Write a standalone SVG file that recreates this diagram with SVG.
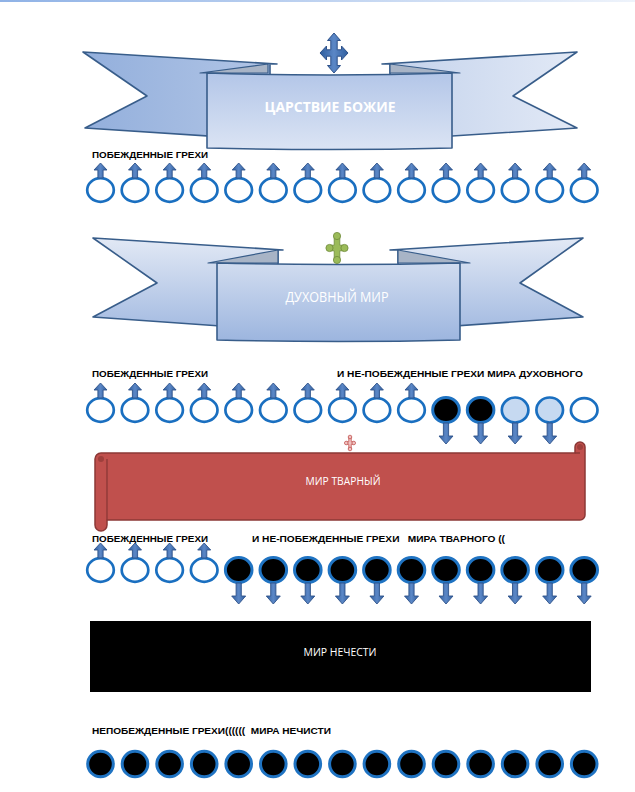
<svg xmlns="http://www.w3.org/2000/svg" width="635" height="792" viewBox="0 0 635 792">
<style>
.arrow{fill:url(#arr);stroke:#2f528a;stroke-width:0.9}
.ring{fill:#ffffff;stroke:#1a6fc0;stroke-width:2.7}
.dark{fill:#000000;stroke:#1f73c2;stroke-width:3}
.pale{fill:#c6d9f1;stroke:#1a6fc0;stroke-width:2.7}
.band{stroke:#385d8a;stroke-width:1.6;stroke-linejoin:round}
.fold{fill:#a8b4c6;stroke:#385d8a;stroke-width:1.2;stroke-linejoin:round}
.lbl{font-family:"Liberation Sans",Arial,sans-serif;font-weight:bold;font-size:9.5px;fill:#000000}
.wt{font-family:"Open Sans","Liberation Sans",sans-serif;fill:#ffffff;text-anchor:middle}
</style>
<defs>
<linearGradient id="topline" x1="0" y1="0" x2="1" y2="0"><stop offset="0" stop-color="#8fb2e6"/><stop offset="1" stop-color="#eef3fb"/></linearGradient>
<linearGradient id="b1" gradientUnits="userSpaceOnUse" x1="83" y1="0" x2="577" y2="0"><stop offset="0" stop-color="#93afdc"/><stop offset="1" stop-color="#e2e9f6"/></linearGradient>
<linearGradient id="b1r" x1="0" y1="0" x2="0" y2="1"><stop offset="0" stop-color="#b3c6e8"/><stop offset="1" stop-color="#dbe4f4"/></linearGradient>
<linearGradient id="b2" gradientUnits="userSpaceOnUse" x1="0" y1="238" x2="0" y2="340"><stop offset="0" stop-color="#e2e9f5"/><stop offset="1" stop-color="#9db6df"/></linearGradient>
<linearGradient id="arr" x1="0" y1="0" x2="1" y2="0"><stop offset="0" stop-color="#2f5e9e"/><stop offset="0.5" stop-color="#5b87c6"/><stop offset="1" stop-color="#2f5e9e"/></linearGradient>
<path id="up" d="M0,0 L6.5,7 L2.6,7 L2.6,15 L-2.6,15 L-2.6,7 L-6.5,7 Z" class="arrow"/>
<path id="down" d="M-2.6,0 L2.6,0 L2.6,13 L7,13 L0,21 L-7,13 L-2.6,13 Z" class="arrow"/>
</defs>

<rect x="0" y="0" width="635" height="2" fill="url(#topline)"/>

<g id="banner-kingdom">
  <path class="band" fill="url(#b1)" d="M83,52 L277,64 L270,64 L270,140 L85,128 L147,96 Z"/>
  <path class="band" fill="url(#b1)" d="M577,52 L382,64 L390,64 L390,140 L577,128 L513,96 Z"/>
  <path class="fold" d="M200,73 L268,64 L268,73 Z"/>
  <path class="fold" d="M460,73 L390,64 L390,73 Z"/>
  <path class="band" fill="url(#b1r)" d="M207,73 Q329,77 452,73 L452,148 Q329,151 207,148 Z"/>
  <path fill="url(#arr)" stroke="#2f528a" stroke-width="1" transform="translate(334,53)" d="M0,-20 L6.5,-12.5 L3.2,-12.5 L3.2,-3.2 L7.5,-3.2 L7.5,-7 L14,0 L7.5,7 L7.5,3.2 L3.2,3.2 L3.2,12.5 L6.5,12.5 L0,20 L-6.5,12.5 L-3.2,12.5 L-3.2,3.2 L-7.5,3.2 L-7.5,7 L-14,0 L-7.5,-7 L-7.5,-3.2 L-3.2,-3.2 L-3.2,-12.5 L-6.5,-12.5 Z"/>
  <text class="wt" x="330" y="112" font-size="15" font-weight="bold" textLength="131" lengthAdjust="spacingAndGlyphs">ЦАРСТВИЕ БОЖИЕ</text>
</g>

<g id="banner-spiritual">
  <path class="band" fill="url(#b2)" d="M93,238 L283,250 L278,250 L278,330 L93,317 L157,283 Z"/>
  <path class="band" fill="url(#b2)" d="M583,238 L390,250 L398,250 L398,330 L583,317 L520,283 Z"/>
  <path class="fold" d="M208,263 L278,250 L278,263 Z"/>
  <path class="fold" d="M470,263 L398,250 L398,263 Z"/>
  <path class="band" fill="url(#b2)" d="M217,263 Q338,266 460,263 L460,340 Q338,343 217,340 Z"/>
  <g transform="translate(337,248)" fill="#9bbb59" stroke="#6f8a3a" stroke-width="0.8">
    <path d="M-2.8,-12 L2.8,-12 L2.8,-2.8 L7,-2.8 L7,2.8 L2.8,2.8 L2.8,12 L-2.8,12 L-2.8,2.8 L-7,2.8 L-7,-2.8 L-2.8,-2.8 Z"/>
    <circle cx="0" cy="-12" r="3.6"/><circle cx="0" cy="12" r="3.6"/>
    <circle cx="-7.5" cy="0" r="3.6"/><circle cx="7.5" cy="0" r="3.6"/>
  </g>
  <text class="wt" x="337" y="302" font-size="14" textLength="103" lengthAdjust="spacingAndGlyphs">ДУХОВНЫЙ МИР</text>
</g>

<g id="scroll-created">
  <path fill="#c0504d" stroke="#8c3836" stroke-width="1.5" stroke-linejoin="round" d="M95,459 A6,6 0 0 1 101,453 L575,453 L575,447 A5,5 0 0 1 585,447 L585,515 A5,5 0 0 1 580,520 L107,520 L107,525 A6,6 0 0 1 95,525 Z"/>
  <path fill="none" stroke="#8c3836" stroke-width="1.3" d="M107,459 L107,520 M575,453 L580,453"/>
  <circle cx="101" cy="459" r="3" fill="#9e3f3c"/>
  <circle cx="580" cy="447" r="3" fill="#9e3f3c"/>
  <g transform="translate(350,443) scale(0.5)" fill="#f0c2c1" stroke="#c0504d" stroke-width="1.5">
    <path d="M-2.5,-12 L2.5,-12 L2.5,-2.5 L7,-2.5 L7,2.5 L2.5,2.5 L2.5,12 L-2.5,12 L-2.5,2.5 L-7,2.5 L-7,-2.5 L-2.5,-2.5 Z"/>
    <circle cx="0" cy="-12" r="3.6"/><circle cx="0" cy="12" r="3.6"/>
    <circle cx="-7.5" cy="0" r="3.6"/><circle cx="7.5" cy="0" r="3.6"/>
  </g>
  <text class="wt" x="343" y="485" font-size="10.5" textLength="75" lengthAdjust="spacingAndGlyphs">МИР ТВАРНЫЙ</text>
</g>

<g id="world-evil">
  <rect x="90" y="621" width="501" height="71" fill="#000000"/>
  <text class="wt" x="340" y="656" font-size="10" textLength="73" lengthAdjust="spacingAndGlyphs">МИР НЕЧЕСТИ</text>
</g>

<g id="labels">
  <text class="lbl" x="92" y="158" textLength="116" lengthAdjust="spacingAndGlyphs">ПОБЕЖДЕННЫЕ ГРЕХИ</text>
  <text class="lbl" x="92" y="377" textLength="116" lengthAdjust="spacingAndGlyphs">ПОБЕЖДЕННЫЕ ГРЕХИ</text>
  <text class="lbl" x="337" y="377" textLength="246" lengthAdjust="spacingAndGlyphs">И НЕ-ПОБЕЖДЕННЫЕ ГРЕХИ МИРА ДУХОВНОГО</text>
  <text class="lbl" x="92" y="542" textLength="116" lengthAdjust="spacingAndGlyphs">ПОБЕЖДЕННЫЕ ГРЕХИ</text>
  <text class="lbl" x="252" y="542" textLength="253" lengthAdjust="spacingAndGlyphs" xml:space="preserve">И НЕ-ПОБЕЖДЕННЫЕ ГРЕХИ   МИРА ТВАРНОГО ((</text>
  <text class="lbl" x="92" y="734" textLength="239" lengthAdjust="spacingAndGlyphs" xml:space="preserve">НЕПОБЕЖДЕННЫЕ ГРЕХИ((((((  МИРА НЕЧИСТИ</text>
</g>

<g id="row1">
  <ellipse class="ring" cx="100.5" cy="190" rx="13.3" ry="11.8"/>
  <ellipse class="ring" cx="135" cy="190" rx="13.3" ry="11.8"/>
  <ellipse class="ring" cx="169.6" cy="190" rx="13.3" ry="11.8"/>
  <ellipse class="ring" cx="204.2" cy="190" rx="13.3" ry="11.8"/>
  <ellipse class="ring" cx="238.7" cy="190" rx="13.3" ry="11.8"/>
  <ellipse class="ring" cx="273.3" cy="190" rx="13.3" ry="11.8"/>
  <ellipse class="ring" cx="307.8" cy="190" rx="13.3" ry="11.8"/>
  <ellipse class="ring" cx="342.4" cy="190" rx="13.3" ry="11.8"/>
  <ellipse class="ring" cx="376.9" cy="190" rx="13.3" ry="11.8"/>
  <ellipse class="ring" cx="411.5" cy="190" rx="13.3" ry="11.8"/>
  <ellipse class="ring" cx="446" cy="190" rx="13.3" ry="11.8"/>
  <ellipse class="ring" cx="480.6" cy="190" rx="13.3" ry="11.8"/>
  <ellipse class="ring" cx="515.1" cy="190" rx="13.3" ry="11.8"/>
  <ellipse class="ring" cx="549.7" cy="190" rx="13.3" ry="11.8"/>
  <ellipse class="ring" cx="584.2" cy="190" rx="13.3" ry="11.8"/>
</g>

<g id="row2">
  <ellipse class="ring" cx="100.5" cy="410" rx="13.3" ry="11.8"/>
  <ellipse class="ring" cx="135" cy="410" rx="13.3" ry="11.8"/>
  <ellipse class="ring" cx="169.6" cy="410" rx="13.3" ry="11.8"/>
  <ellipse class="ring" cx="204.2" cy="410" rx="13.3" ry="11.8"/>
  <ellipse class="ring" cx="238.7" cy="410" rx="13.3" ry="11.8"/>
  <ellipse class="ring" cx="273.3" cy="410" rx="13.3" ry="11.8"/>
  <ellipse class="ring" cx="307.8" cy="410" rx="13.3" ry="11.8"/>
  <ellipse class="ring" cx="342.4" cy="410" rx="13.3" ry="11.8"/>
  <ellipse class="ring" cx="376.9" cy="410" rx="13.3" ry="11.8"/>
  <ellipse class="ring" cx="411.5" cy="410" rx="13.3" ry="11.8"/>
  <ellipse class="dark" cx="446" cy="410" rx="13.3" ry="12.5"/>
  <ellipse class="dark" cx="480.6" cy="410" rx="13.3" ry="12.5"/>
  <ellipse class="pale" cx="515.1" cy="410" rx="13.3" ry="12.5"/>
  <ellipse class="pale" cx="549.7" cy="410" rx="13.3" ry="12.5"/>
  <ellipse class="ring" cx="584.2" cy="410" rx="13.3" ry="11.8"/>
</g>

<g id="row3">
  <ellipse class="ring" cx="100.5" cy="570" rx="13.3" ry="11.8"/>
  <ellipse class="ring" cx="135" cy="570" rx="13.3" ry="11.8"/>
  <ellipse class="ring" cx="169.6" cy="570" rx="13.3" ry="11.8"/>
  <ellipse class="ring" cx="204.2" cy="570" rx="13.3" ry="11.8"/>
  <ellipse class="dark" cx="238.7" cy="570" rx="13.3" ry="12.5"/>
  <ellipse class="dark" cx="273.3" cy="570" rx="13.3" ry="12.5"/>
  <ellipse class="dark" cx="307.8" cy="570" rx="13.3" ry="12.5"/>
  <ellipse class="dark" cx="342.4" cy="570" rx="13.3" ry="12.5"/>
  <ellipse class="dark" cx="376.9" cy="570" rx="13.3" ry="12.5"/>
  <ellipse class="dark" cx="411.5" cy="570" rx="13.3" ry="12.5"/>
  <ellipse class="dark" cx="446" cy="570" rx="13.3" ry="12.5"/>
  <ellipse class="dark" cx="480.6" cy="570" rx="13.3" ry="12.5"/>
  <ellipse class="dark" cx="515.1" cy="570" rx="13.3" ry="12.5"/>
  <ellipse class="dark" cx="549.7" cy="570" rx="13.3" ry="12.5"/>
  <ellipse class="dark" cx="584.2" cy="570" rx="13.3" ry="12.5"/>
</g>

<g id="row4">
  <circle class="dark" cx="100.5" cy="764" r="12.8"/>
  <circle class="dark" cx="135" cy="764" r="12.8"/>
  <circle class="dark" cx="169.6" cy="764" r="12.8"/>
  <circle class="dark" cx="204.2" cy="764" r="12.8"/>
  <circle class="dark" cx="238.7" cy="764" r="12.8"/>
  <circle class="dark" cx="273.3" cy="764" r="12.8"/>
  <circle class="dark" cx="307.8" cy="764" r="12.8"/>
  <circle class="dark" cx="342.4" cy="764" r="12.8"/>
  <circle class="dark" cx="376.9" cy="764" r="12.8"/>
  <circle class="dark" cx="411.5" cy="764" r="12.8"/>
  <circle class="dark" cx="446" cy="764" r="12.8"/>
  <circle class="dark" cx="480.6" cy="764" r="12.8"/>
  <circle class="dark" cx="515.1" cy="764" r="12.8"/>
  <circle class="dark" cx="549.7" cy="764" r="12.8"/>
  <circle class="dark" cx="584.2" cy="764" r="12.8"/>
</g>

<g id="connectors">
  <use href="#up" x="100.5" y="163"/><use href="#up" x="135" y="163"/><use href="#up" x="169.6" y="163"/>
  <use href="#up" x="204.2" y="163"/><use href="#up" x="238.7" y="163"/><use href="#up" x="273.3" y="163"/>
  <use href="#up" x="307.8" y="163"/><use href="#up" x="342.4" y="163"/><use href="#up" x="376.9" y="163"/>
  <use href="#up" x="411.5" y="163"/><use href="#up" x="446" y="163"/><use href="#up" x="480.6" y="163"/>
  <use href="#up" x="515.1" y="163"/><use href="#up" x="549.7" y="163"/><use href="#up" x="584.2" y="163"/>

  <use href="#up" x="100.5" y="383"/><use href="#up" x="135" y="383"/><use href="#up" x="169.6" y="383"/>
  <use href="#up" x="204.2" y="383"/><use href="#up" x="238.7" y="383"/><use href="#up" x="273.3" y="383"/>
  <use href="#up" x="307.8" y="383"/><use href="#up" x="342.4" y="383"/><use href="#up" x="376.9" y="383"/>
  <use href="#up" x="411.5" y="383"/>
  <use href="#down" x="446" y="423"/><use href="#down" x="480.6" y="423"/>
  <use href="#down" x="515.1" y="423"/><use href="#down" x="549.7" y="423"/>

  <use href="#up" x="100.5" y="543"/><use href="#up" x="135" y="543"/><use href="#up" x="169.6" y="543"/>
  <use href="#up" x="204.2" y="543"/>
  <use href="#down" x="238.7" y="583"/><use href="#down" x="273.3" y="583"/><use href="#down" x="307.8" y="583"/>
  <use href="#down" x="342.4" y="583"/><use href="#down" x="376.9" y="583"/><use href="#down" x="411.5" y="583"/>
  <use href="#down" x="446" y="583"/><use href="#down" x="480.6" y="583"/><use href="#down" x="515.1" y="583"/>
  <use href="#down" x="549.7" y="583"/><use href="#down" x="584.2" y="583"/>
</g>
</svg>
